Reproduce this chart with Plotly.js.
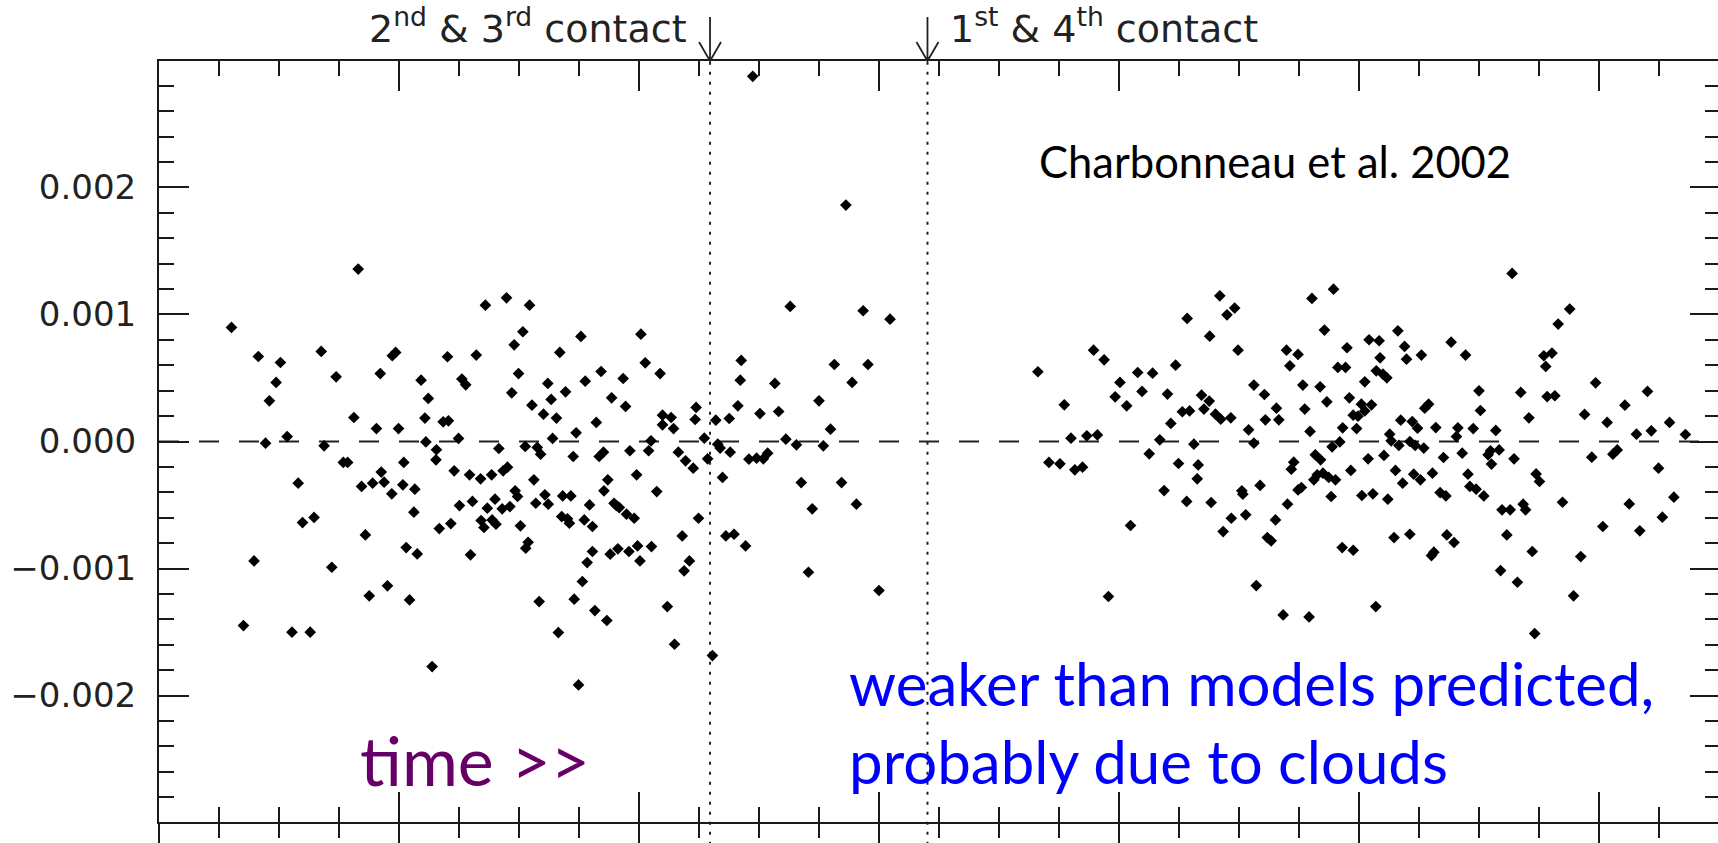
<!DOCTYPE html>
<html>
<head>
<meta charset="utf-8">
<script src="https://cdn.plot.ly/plotly-3.0.1.min.js"></script>
<style>
html,body{margin:0;padding:0;overflow:hidden;background:#fff;}
#chart{width:1721px;height:843px;}
</style>
</head>
<body>
<div id="chart"></div>
<script>
// time from mid-transit (hours)
const timeHours = [
 0.151,0.207,0.253,0.244,0.230,0.222,0.267,0.338,0.369,0.415,0.406,0.344,0.453,0.461,0.486,0.493,0.499,0.546,0.561,0.554,
 0.556,0.592,0.603,0.601,0.578,0.624,0.631,0.639,0.661,0.680,0.724,0.772,0.758,0.740,0.749,0.735,0.708,0.777,0.801,0.810,
 0.817,0.828,0.835,0.847,0.879,0.888,0.869,0.820,0.763,0.788,0.795,0.911,0.921,0.943,0.967,0.972,1.004,1.013,1.044,1.049,
 1.067,1.049,1.072,1.025,1.119,1.117,
 0.384,0.393,0.290,0.299,0.323,0.198,0.176,0.277,0.315,0.360,0.422,0.445,0.463,0.469,0.485,0.430,0.438,0.476,0.510,0.508,
 0.533,0.531,0.515,0.538,0.522,0.577,0.569,0.615,0.647,0.670,0.693,0.717,0.726,0.626,0.653,0.684,0.700,0.715,0.731,0.608,
 0.584,0.671,0.677,0.694,0.702,0.649,0.742,0.747,0.753,0.769,0.764,0.781,0.785,0.804,0.811,0.792,0.863,0.841,0.858,0.839,
 0.851,0.855,0.886,0.903,0.897,0.832,0.865,0.882,0.892,0.903,0.874,0.908,0.933,0.917,0.926,0.935,0.927,0.948,0.953,0.959,
 0.974,0.990,0.940,0.956,0.979,0.997,1.002,1.026,0.981,0.995,1.020,1.037,1.059,1.074,1.082,1.097,1.113,1.090,1.105,1.094,
 1.124,
 1.237,1.431,1.315,1.467,1.523,1.213,1.211,1.160,1.188,1.206,1.252,1.283,1.291,1.375,1.407,1.444,1.477,1.399,1.136,1.306,
 1.831,1.886,1.900,1.933,1.955,1.947,1.969,2.002,1.992,2.016,2.039,2.048,2.070,2.101,2.118,2.108,2.085,2.132,2.147,2.142,
 1.164,1.169,1.190,1.143,1.174,1.229,1.245,1.259,1.268,1.328,1.384,1.338,1.361,1.422,1.453,1.181,1.198,1.222,1.353,1.500,
 1.153,
 1.854,1.877,1.908,1.924,2.024,1.978,2.063,2.156,2.124,2.165,2.163,2.094,2.141,
 2.172,2.188,2.177,2.189,2.210,2.225,2.241,2.248,2.201,2.212,2.233,2.270,2.281,2.281,2.303,2.305,2.328,2.333,2.349,2.356,
 2.373,2.383,2.387,2.398,2.402,2.428,2.419,2.433,2.447,2.444,2.460,2.466,2.456,2.472,2.475,2.480,2.488,2.498,2.495,2.505,
 2.512,2.526,2.512,2.521,2.542,2.544,2.536,2.550,2.558,2.564,2.581,2.595,2.599,2.587,2.611,2.622,2.630,2.637,2.645,2.660,
 2.692,2.706,2.703,2.722,2.738,2.750,2.753,2.785,2.819,2.837,2.854,2.885,2.902,2.889,2.892,2.908,2.915,2.939,2.970,2.993,
 3.017,3.054,3.078,3.101,3.109,3.147,3.180,
 2.192,2.217,2.234,2.256,2.258,2.264,2.294,2.286,2.309,2.317,2.326,2.342,2.351,2.364,2.359,2.373,2.380,2.396,2.409,2.420,
 2.406,2.413,2.425,2.437,2.451,2.442,2.465,2.488,2.483,2.506,2.529,2.519,2.535,2.552,2.560,2.567,2.583,2.576,2.591,2.573,
 2.606,2.617,2.635,2.614,2.628,2.606,2.653,2.669,2.681,2.676,2.651,2.656,2.683,2.698,2.715,2.727,2.731,2.744,2.760,2.769,
 2.774,2.776,2.792,2.823,2.798,2.815,2.842,2.847,2.808,2.795,2.830,2.861,2.866,2.869,2.876,2.924,2.962,2.947,2.985,3.008,
 3.029,3.038,3.063,3.085,3.124,3.132,3.156
];

// relative flux residual
const residual = [
 0.898e-3,0.669e-3,0.622e-3,0.465e-3,0.320e-3,-0.013e-3,0.039e-3,0.709e-3,0.509e-3,1.357e-3,0.189e-3,-0.034e-3,0.102e-3,0.535e-3,0.675e-3,0.701e-3,0.102e-3,0.483e-3,0.339e-3,0.184e-3,
 -0.003e-3,0.155e-3,0.163e-3,0.667e-3,-0.065e-3,0.024e-3,0.491e-3,0.446e-3,0.680e-3,1.073e-3,1.131e-3,1.073e-3,0.864e-3,0.761e-3,0.535e-3,0.383e-3,-0.055e-3,0.286e-3,0.215e-3,0.457e-3,
 0.331e-3,0.184e-3,0.701e-3,0.391e-3,0.827e-3,0.475e-3,0.068e-3,0.024e-3,-0.039e-3,-0.047e-3,-0.100e-3,0.150e-3,0.551e-3,0.344e-3,0.496e-3,0.276e-3,0.845e-3,0.619e-3,0.535e-3,0.207e-3,
 0.189e-3,0.131e-3,0.102e-3,0.005e-3,0.268e-3,0.173e-3,
 -0.165e-3,-0.165e-3,-0.328e-3,-0.638e-3,-0.598e-3,-0.940e-3,-1.449e-3,-1.501e-3,-1.501e-3,-0.990e-3,-0.354e-3,-0.328e-3,-0.241e-3,-0.320e-3,-0.412e-3,-0.735e-3,-1.215e-3,-1.136e-3,-0.165e-3,-0.341e-3,
 -0.375e-3,-0.556e-3,-0.835e-3,-0.885e-3,-1.247e-3,-0.144e-3,-1.772e-3,-0.231e-3,-0.262e-3,-0.294e-3,-0.262e-3,-0.231e-3,-0.202e-3,-0.504e-3,-0.472e-3,-0.525e-3,-0.454e-3,-0.530e-3,-0.512e-3,-0.646e-3,
 -0.685e-3,-0.622e-3,-0.677e-3,-0.617e-3,-0.651e-3,-0.892e-3,-0.388e-3,-0.433e-3,-0.664e-3,-0.793e-3,-0.840e-3,-0.302e-3,-0.486e-3,-0.420e-3,-0.493e-3,-1.260e-3,-0.118e-3,-0.428e-3,-0.428e-3,-0.591e-3,
 -0.609e-3,-0.643e-3,-0.617e-3,-0.669e-3,-0.499e-3,-1.504e-3,-1.241e-3,-1.102e-3,-0.953e-3,-0.866e-3,-1.916e-3,-1.331e-3,-1.409e-3,-0.118e-3,-0.084e-3,-0.302e-3,-0.388e-3,-0.486e-3,-0.504e-3,-0.520e-3,
 -0.572e-3,-0.604e-3,-0.887e-3,-0.845e-3,-0.866e-3,-0.822e-3,-0.940e-3,-0.827e-3,-0.073e-3,-0.262e-3,-0.073e-3,-0.394e-3,-1.299e-3,-1.596e-3,-0.084e-3,-0.152e-3,-0.210e-3,-0.743e-3,-0.940e-3,-1.018e-3,
 -0.604e-3,
 2.874e-3,1.861e-3,1.063e-3,1.029e-3,0.963e-3,0.638e-3,0.483e-3,0.168e-3,0.181e-3,0.281e-3,0.220e-3,0.457e-3,0.236e-3,0.320e-3,0.606e-3,0.465e-3,0.606e-3,0.097e-3,0.026e-3,0.018e-3,
 0.549e-3,0.289e-3,0.026e-3,0.045e-3,0.052e-3,0.719e-3,0.643e-3,0.465e-3,0.352e-3,0.281e-3,0.543e-3,0.394e-3,0.538e-3,0.373e-3,0.601e-3,0.142e-3,0.013e-3,0.234e-3,0.241e-3,0.969e-3,
 -0.021e-3,-0.052e-3,-0.084e-3,-0.136e-3,-0.283e-3,-0.139e-3,-0.131e-3,-0.136e-3,-0.092e-3,-0.026e-3,-0.034e-3,-0.323e-3,-0.530e-3,-0.323e-3,-0.493e-3,-0.743e-3,-0.730e-3,-0.822e-3,-1.029e-3,-1.173e-3,
 -1.685e-3,
 -0.165e-3,-0.176e-3,-0.223e-3,-0.202e-3,-0.661e-3,-1.220e-3,-0.097e-3,-0.021e-3,-0.173e-3,-0.184e-3,-0.294e-3,-0.386e-3,-0.472e-3,
 0.365e-3,0.318e-3,0.255e-3,0.829e-3,1.147e-3,0.997e-3,1.050e-3,0.719e-3,0.215e-3,0.176e-3,0.186e-3,0.092e-3,0.444e-3,-0.013e-3,0.370e-3,0.171e-3,0.262e-3,0.171e-3,0.719e-3,0.596e-3,
 0.685e-3,0.444e-3,0.255e-3,0.079e-3,1.126e-3,0.877e-3,0.430e-3,0.312e-3,1.199e-3,-0.042e-3,-0.003e-3,0.108e-3,0.583e-3,0.583e-3,0.738e-3,0.344e-3,0.207e-3,0.199e-3,0.102e-3,0.294e-3,
 0.241e-3,0.289e-3,0.470e-3,0.801e-3,0.793e-3,0.659e-3,0.556e-3,0.530e-3,0.501e-3,0.058e-3,0.871e-3,0.748e-3,0.648e-3,0.168e-3,0.157e-3,0.105e-3,0.680e-3,0.262e-3,0.294e-3,0.110e-3,
 0.782e-3,0.108e-3,0.039e-3,0.680e-3,0.102e-3,0.399e-3,0.244e-3,0.087e-3,1.323e-3,0.386e-3,0.186e-3,0.675e-3,0.696e-3,0.591e-3,0.354e-3,0.360e-3,0.924e-3,1.042e-3,0.213e-3,0.462e-3,
 0.150e-3,0.286e-3,0.058e-3,0.394e-3,0.084e-3,0.150e-3,0.055e-3,
 -0.480e-3,-0.709e-3,-0.604e-3,-0.388e-3,-0.415e-3,-0.577e-3,-0.346e-3,-1.134e-3,-0.756e-3,-0.782e-3,-0.617e-3,-1.365e-3,-0.493e-3,-0.163e-3,-0.218e-3,-0.381e-3,-0.362e-3,-1.381e-3,-0.105e-3,-0.144e-3,
 -0.302e-3,-0.262e-3,-0.249e-3,-0.283e-3,-0.302e-3,-0.433e-3,-0.835e-3,-0.856e-3,-0.228e-3,-0.425e-3,-0.412e-3,-0.136e-3,-1.299e-3,-0.110e-3,-0.454e-3,0.005e-3,-0.031e-3,-0.228e-3,-0.328e-3,-0.756e-3,
 0.000e-3,-0.031e-3,-0.052e-3,-0.257e-3,-0.302e-3,-0.730e-3,-0.249e-3,-0.402e-3,-0.428e-3,-0.126e-3,-0.898e-3,-0.871e-3,-0.735e-3,-0.795e-3,-0.092e-3,-0.257e-3,-0.354e-3,-0.375e-3,-0.428e-3,-0.105e-3,
 -0.073e-3,-0.178e-3,-0.066e-3,-0.136e-3,-0.538e-3,-0.538e-3,-0.493e-3,-0.538e-3,-0.735e-3,-1.016e-3,-1.108e-3,-0.866e-3,-1.512e-3,-0.255e-3,-0.315e-3,-0.478e-3,-0.906e-3,-1.215e-3,-0.123e-3,-0.669e-3,
 -0.100e-3,-0.066e-3,-0.491e-3,-0.703e-3,-0.210e-3,-0.596e-3,-0.438e-3
];

const contactTimes = [1.148, 1.601];
const contactLabels = ['2<sup>nd</sup> &amp; 3<sup>rd</sup> contact', '1<sup>st</sup> &amp; 4<sup>th</sup> contact'];
const xRange = [0, 3.2521];
const yRange = [-0.002995, 0.002995];

const axisColor = '#1a1a1a';
const idlFont = {family: 'DejaVu Sans', size: 34, color: '#222'};

const traces = [
  {
    type: 'scatter', mode: 'markers',
    x: timeHours, y: residual,
    marker: {symbol: 'diamond', size: 9, color: '#000', line: {width: 0}},
    hoverinfo: 'x+y', showlegend: false
  },
  { type: 'scatter', x: [], y: [], xaxis: 'x2', yaxis: 'y', showlegend: false, hoverinfo: 'skip' }
];

const shapes = [
  {type: 'line', xref: 'paper', x0: 0, x1: 1, yref: 'y', y0: 0, y1: 0,
   line: {color: '#222', width: 2, dash: '20px,20px'}, layer: 'below'}
];
contactTimes.forEach(t => {
  shapes.push({type: 'line', xref: 'x', x0: t, x1: t, yref: 'paper', y0: -0.03, y1: 1,
    line: {color: '#222', width: 2, dash: '3px,7px'}, layer: 'below'});
  shapes.push({type: 'path', xref: 'x', yref: 'paper', xsizemode: 'pixel', ysizemode: 'pixel',
    xanchor: t, yanchor: 1, path: 'M0,0 L0,44 M-11,19 L0,0 L11,19',
    line: {color: '#222', width: 1.8}});
});

const annotations = [
  {text: contactLabels[0], x: contactTimes[0], xref: 'x', y: 1, yref: 'paper',
   xanchor: 'right', yanchor: 'bottom', xshift: -21, yshift: 8, showarrow: false,
   font: {family: 'DejaVu Sans', size: 38, color: '#222'}},
  {text: contactLabels[1], x: contactTimes[1], xref: 'x', y: 1, yref: 'paper',
   xanchor: 'left', yanchor: 'bottom', xshift: 21, yshift: 8, showarrow: false,
   font: {family: 'DejaVu Sans', size: 38, color: '#222'}},
  {text: 'Charbonneau et al. 2002', xref: 'paper', yref: 'paper', x: 0.5625, y: 0.9054,
   xanchor: 'left', yanchor: 'top', showarrow: false,
   font: {family: 'Lato', size: 43.5, color: '#000'}},
  {text: 'time &gt;&gt;', xref: 'paper', yref: 'paper', x: 0.1275, y: 0.1381,
   xanchor: 'left', yanchor: 'top', showarrow: false,
   font: {family: 'Lato', size: 68, color: '#660066'}},
  {text: 'weaker than models predicted,<br>probably due to clouds', xref: 'paper', yref: 'paper',
   x: 0.441, y: 0.2328, xanchor: 'left', yanchor: 'top', align: 'left', showarrow: false,
   font: {family: 'Lato', size: 60, color: '#0000ff'}}
];

const layout = {
  width: 1721, height: 843,
  margin: {l: 159, r: 1, t: 61, b: 21, pad: 0},
  paper_bgcolor: '#fff', plot_bgcolor: '#fff',
  showlegend: false,
  xaxis: {
    range: xRange, tickmode: 'linear', tick0: 0, dtick: 0.5,
    ticks: 'inside', ticklen: 30, tickwidth: 2, tickcolor: axisColor,
    minor: {dtick: 0.125, ticks: 'inside', ticklen: 15, tickwidth: 2, tickcolor: axisColor, showgrid: false},
    showticklabels: false, showgrid: false, zeroline: false,
    showline: true, linewidth: 2, linecolor: axisColor, mirror: 'ticks'
  },
  xaxis2: {
    overlaying: 'x', anchor: 'y', side: 'bottom', range: xRange,
    tickmode: 'linear', tick0: 0, dtick: 0.5,
    ticks: 'outside', ticklen: 30, tickwidth: 2, tickcolor: axisColor,
    minor: {dtick: 0.125, ticks: 'outside', ticklen: 15, tickwidth: 2, tickcolor: axisColor, showgrid: false},
    showticklabels: false, showgrid: false, zeroline: false, showline: false
  },
  yaxis: {
    range: yRange, tickmode: 'linear', tick0: 0, dtick: 0.001, tickformat: '.3f',
    ticks: 'inside', ticklen: 30, tickwidth: 2, tickcolor: axisColor,
    minor: {dtick: 0.0002, ticks: 'inside', ticklen: 15, tickwidth: 2, tickcolor: axisColor, showgrid: false},
    tickfont: idlFont, ticklabelstandoff: 14,
    showgrid: false, zeroline: false,
    showline: true, linewidth: 2, linecolor: axisColor, mirror: 'ticks'
  },
  shapes: shapes,
  annotations: annotations
};

Plotly.newPlot('chart', traces, layout, {staticPlot: true, displayModeBar: false});
</script>
</body>
</html>
